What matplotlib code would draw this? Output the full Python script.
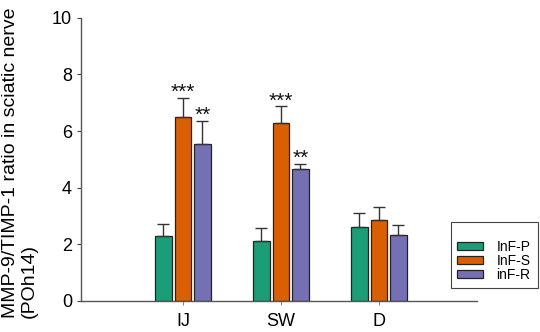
import matplotlib
matplotlib.use("Agg")
import matplotlib.pyplot as plt
from matplotlib.patches import Rectangle
import numpy as np

plt.rcParams['font.family'] = ['Liberation Sans', 'DejaVu Sans']

categories = ["IJ", "SW", "D"]
series_names = ["InF-P", "InF-S", "inF-R"]
means = {
    "InF-P": [2.28, 2.12, 2.60],
    "InF-S": [6.48, 6.28, 2.87],
    "inF-R": [5.53, 4.65, 2.33],
}
errors = {
    "InF-P": [0.44, 0.47, 0.50],
    "InF-S": [0.69, 0.59, 0.44],
    "inF-R": [0.84, 0.18, 0.35],
}
stars = {
    "InF-P": ["", "", ""],
    "InF-S": ["***", "***", ""],
    "inF-R": ["**", "**", ""],
}
colors = ["#1b9e77", "#d95f02", "#7570b3"]
yticks = [0, 2, 4, 6, 8, 10]

fig = plt.figure(figsize=(5.4, 3.32), dpi=100)
ax = fig.add_axes([0.15, 0.0934, 0.733, 0.853])

x = np.arange(len(categories))
width = 0.17
step = 0.2
for i, name in enumerate(series_names):
    xs = x + (i - 1) * step
    ax.bar(xs, means[name], width=width, color=colors[i], edgecolor="#222222",
           linewidth=0.9, label=name, zorder=2)
    ax.errorbar(xs, means[name], yerr=[np.zeros(3), errors[name]], fmt="none",
                ecolor="#333333", elinewidth=1.0, capsize=4, capthick=1.0, zorder=3)
    for xi, m, e, s in zip(xs, means[name], errors[name], stars[name]):
        if s:
            ax.text(xi, m + e, s, ha="center", va="baseline", fontsize=15,
                    color="#111111")

ax.set_xlim(-1.04, 3.0)
ax.set_ylim(0, 10)
ax.set_yticks(yticks)
ax.set_yticklabels([str(t) for t in yticks], fontsize=13)
ax.set_xticks(x)
ax.set_xticklabels(categories, fontsize=13)
ax.tick_params(axis="y", direction="out", length=3, width=0.8, color="#444444", pad=3.5)
ax.tick_params(axis="x", direction="out", length=3, width=0.8, color="#888888", pad=5.5)
for sp in ["top", "right"]:
    ax.spines[sp].set_visible(False)
for sp in ["left", "bottom"]:
    ax.spines[sp].set_color("#555555")
    ax.spines[sp].set_linewidth(1.0)

fig.text(0.003, 0.042, "MMP-9/TIMP-1 ratio in sciatic nerve\n(POh14)", rotation=90,
         ha="left", va="bottom", fontsize=14, multialignment="left",
         linespacing=1.2)

# legend box
fig.patches.append(Rectangle((451 / 540, 1 - 288 / 332), 87 / 540, 66 / 332,
                             transform=fig.transFigure, fill=False,
                             edgecolor="#444444", linewidth=0.8))
handles, labels = ax.get_legend_handles_labels()
leg = fig.legend(handles, labels, loc="upper left",
                 bbox_to_anchor=(457 / 540, 1 - 240 / 332),
                 bbox_transform=fig.transFigure,
                 fontsize=10, frameon=False,
                 handlelength=1.85, handleheight=0.45, labelspacing=0.0,
                 borderpad=0, handletextpad=1.0, borderaxespad=0)

fig.savefig("out.png", dpi=100)
